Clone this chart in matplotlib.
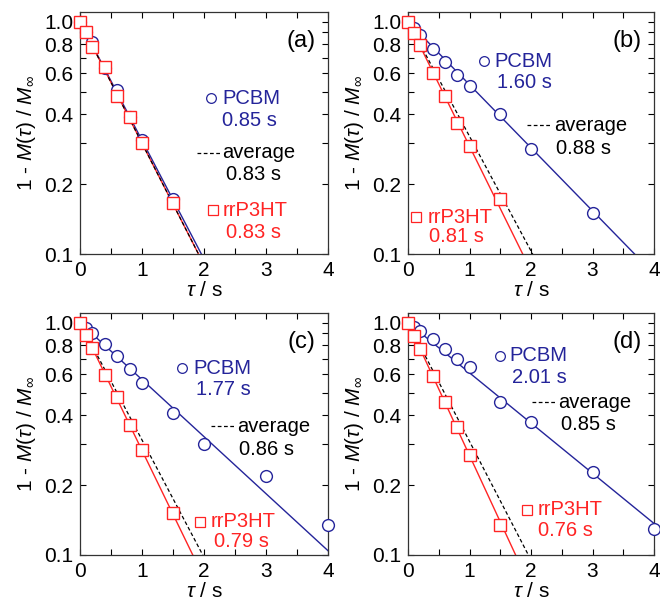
import numpy as np
import matplotlib
matplotlib.use('Agg')
from matplotlib import pyplot as plt
from matplotlib.ticker import FixedLocator, NullFormatter

plt.rcParams['font.family'] = ['Liberation Sans', 'DejaVu Sans']
plt.rcParams['mathtext.fontset'] = 'custom'
plt.rcParams['mathtext.rm'] = 'Liberation Sans'
plt.rcParams['mathtext.it'] = 'Liberation Sans:italic'

BLUE = '#24249a'
RED = '#ff2424'

# data
t_pcbm_a = [0, 0.1, 0.2, 0.4, 0.6, 0.8, 1.0, 1.5]
t_pcbm = [0, 0.1, 0.2, 0.4, 0.6, 0.8, 1.0, 1.5, 2.0, 3.0, 4.0]
t_p3ht = [0, 0.1, 0.2, 0.4, 0.6, 0.8, 1.0, 1.5]

pcbm_a = [1.0, 0.90, 0.82, 0.63, 0.51, 0.39, 0.31, 0.172]
p3ht_a = [1.0, 0.90, 0.78, 0.64, 0.48, 0.39, 0.30, 0.166]

pcbm_b = [1.0, 0.94, 0.88, 0.76, 0.67, 0.59, 0.53, 0.40, 0.283, 0.150]
p3ht_b = [1.0, 0.89, 0.79, 0.60, 0.477, 0.365, 0.293, 0.172]

pcbm_c = [1.0, 0.95, 0.905, 0.806, 0.718, 0.629, 0.551, 0.409, 0.301, 0.218, 0.134]
p3ht_c = [1.0, 0.885, 0.78, 0.598, 0.478, 0.364, 0.284, 0.152]

pcbm_d = [1.0, 0.96, 0.92, 0.848, 0.768, 0.70, 0.645, 0.456, 0.375, 0.227, 0.130]
p3ht_d = [1.0, 0.88, 0.773, 0.59, 0.456, 0.356, 0.269, 0.135]

# fitted decay times (s)
tau_pcbm = [0.85, 1.60, 1.77, 2.01]
tau_avg = [0.83, 0.88, 0.86, 0.85]
tau_p3ht = [0.83, 0.81, 0.79, 0.76]
panel_names = ['(a)', '(b)', '(c)', '(d)']

pcbm_sets = [(t_pcbm_a, pcbm_a), (t_pcbm[:10], pcbm_b), (t_pcbm, pcbm_c), (t_pcbm, pcbm_d)]
p3ht_sets = [p3ht_a, p3ht_b, p3ht_c, p3ht_d]

# axes rectangles in pixels (left, top, right, bottom)
boxes = [(80, 12, 328, 254), (408, 12, 654, 254),
         (80, 313, 328, 555), (408, 313, 654, 555)]

# label placement in axes fractions:
# pcbm marker x,y / pcbm text x / pcbm time center x,y
# dash x0,x1,y / avg text x / avg time center x,y
# square marker x,y / p3ht text x / p3ht time center x,y
label_pos = [
    dict(pc=(0.530, 0.643), pct=0.574, pcs=(0.682, 0.550),
         av=(0.470, 0.564, 0.418), avt=0.574, avs=(0.698, 0.328),
         p3=(0.537, 0.180), p3t=0.574, p3s=(0.700, 0.090)),
    dict(pc=(0.307, 0.797), pct=0.352, pcs=(0.472, 0.708),
         av=(0.485, 0.581, 0.531), avt=0.592, avs=(0.713, 0.434),
         p3=(0.033, 0.152), p3t=0.078, p3s=(0.198, 0.073)),
    dict(pc=(0.413, 0.772), pct=0.456, pcs=(0.577, 0.685),
         av=(0.527, 0.624, 0.533), avt=0.635, avs=(0.752, 0.436),
         p3=(0.483, 0.138), p3t=0.526, p3s=(0.651, 0.055)),
    dict(pc=(0.374, 0.824), pct=0.414, pcs=(0.535, 0.734),
         av=(0.504, 0.602, 0.631), avt=0.611, avs=(0.735, 0.541),
         p3=(0.484, 0.186), p3t=0.525, p3s=(0.638, 0.100)),
]

W, H = 660, 600
fig = plt.figure(figsize=(W / 100, H / 100), dpi=100)

t_fit = np.array([0.0, 4.0])
fs_tick = 15
fs_txt = 14.5

for i in range(4):
    l, tp, r, b = boxes[i]
    ax = fig.add_axes([l / W, 1 - b / H, (r - l) / W, (b - tp) / H])
    ax.set_yscale('log')

    ax.plot(t_fit, np.exp(-t_fit / tau_pcbm[i]), color=BLUE, lw=1.0, zorder=2)
    ax.plot(t_fit, np.exp(-t_fit / tau_p3ht[i]), color=RED, lw=1.0, zorder=2)
    ax.plot(t_fit, np.exp(-t_fit / tau_avg[i]), color='k', lw=0.9,
            dashes=(3, 2), zorder=2)

    tx, py = pcbm_sets[i]
    ax.plot(tx, py, 'o', ms=8.5, mfc='white', mec=BLUE, mew=1.0,
            zorder=3, clip_on=False)
    ax.plot(t_p3ht, p3ht_sets[i], 's', ms=8.5, mfc='white', mec=RED,
            mew=1.0, zorder=4, clip_on=False)

    ax.set_xlim(0, 4)
    ax.set_ylim(0.1, 1.1)
    ax.xaxis.set_major_locator(FixedLocator([0, 1, 2, 3, 4]))
    ax.xaxis.set_minor_locator(FixedLocator([0.5, 1.5, 2.5, 3.5]))
    ax.set_xticklabels(['0', '1', '2', '3', '4'])
    ax.yaxis.set_major_locator(FixedLocator([0.1, 0.2, 0.4, 0.6, 0.8, 1.0]))
    ax.set_yticklabels(['0.1', '0.2', '0.4', '0.6', '0.8', '1.0'])
    ax.yaxis.set_minor_locator(FixedLocator([0.3, 0.5, 0.7, 0.9]))
    ax.yaxis.set_minor_formatter(NullFormatter())
    ax.tick_params(which='both', direction='in', top=True, right=True,
                   length=4, width=0.8, labelsize=fs_tick, pad=5)
    for s in ax.spines.values():
        s.set_linewidth(0.9)
        s.set_color('#333333')

    ax.set_xlabel(r'$\tau$ / s', fontsize=fs_tick, labelpad=1)
    ax.set_ylabel(r'1 - $M$($\tau$) / $M_\infty$', fontsize=fs_tick, labelpad=4)

    ax.text(0.95, 0.88, panel_names[i], transform=ax.transAxes,
            ha='right', va='center', fontsize=fs_tick + 2)

    p = label_pos[i]
    ax.plot([p['pc'][0]], [p['pc'][1]], 'o', ms=7, mfc='white', mec=BLUE,
            mew=0.9, transform=ax.transAxes, zorder=5)
    ax.text(p['pct'], p['pc'][1], 'PCBM', transform=ax.transAxes, color=BLUE,
            ha='left', va='center', fontsize=fs_txt)
    ax.text(p['pcs'][0], p['pcs'][1], '%.2f s' % tau_pcbm[i], transform=ax.transAxes,
            color=BLUE, ha='center', va='center', fontsize=fs_txt)

    ax.plot(p['av'][:2], [p['av'][2]] * 2, color='k', lw=0.9, dashes=(3, 2),
            transform=ax.transAxes, zorder=5)
    ax.text(p['avt'], p['av'][2], 'average', transform=ax.transAxes, color='k',
            ha='left', va='center', fontsize=fs_txt)
    ax.text(p['avs'][0], p['avs'][1], '%.2f s' % tau_avg[i], transform=ax.transAxes,
            color='k', ha='center', va='center', fontsize=fs_txt)

    ax.plot([p['p3'][0]], [p['p3'][1]], 's', ms=7, mfc='white', mec=RED,
            mew=0.9, transform=ax.transAxes, zorder=5)
    ax.text(p['p3t'], p['p3'][1], 'rrP3HT', transform=ax.transAxes, color=RED,
            ha='left', va='center', fontsize=fs_txt)
    ax.text(p['p3s'][0], p['p3s'][1], '%.2f s' % tau_p3ht[i], transform=ax.transAxes,
            color=RED, ha='center', va='center', fontsize=fs_txt)

fig.savefig('out.png', dpi=100)
